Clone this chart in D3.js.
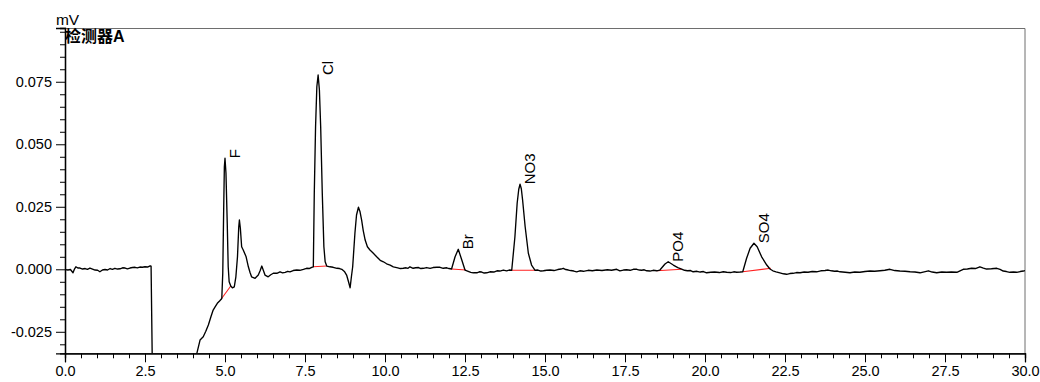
<!DOCTYPE html>
<html>
<head>
<meta charset="utf-8">
<script src="https://cdn.jsdelivr.net/npm/d3@7"></script>
<style>
  body { margin: 0; background: #fff; }
  svg { display: block; }
  text { font-family: "Liberation Sans", Arial, sans-serif; fill: #000; }
</style>
</head>
<body>
<svg id="chart" width="1040" height="382"></svg>
<script>
// Detector A trace: [retention time (min), signal (mV)]
const signal = [
  [0.00, 0.0000], [0.05, -0.0002], [0.09, -0.0003], [0.17, -0.0001], [0.25, -0.0014],
  [0.30, 0.0002], [0.34, 0.0010], [0.40, 0.0005], [0.47, 0.0005], [0.55, 0.0001],
  [0.63, 0.0003], [0.70, 0.0000], [0.78, 0.0005], [0.86, 0.0001], [0.94, -0.0003],
  [1.02, -0.0004], [1.09, -0.0010], [1.17, -0.0003], [1.25, -0.0001], [1.33, -0.0003],
  [1.41, 0.0003], [1.48, 0.0000], [1.56, 0.0004], [1.64, 0.0001], [1.72, 0.0002],
  [1.80, 0.0006], [1.88, 0.0005], [1.95, 0.0002], [2.03, 0.0005], [2.11, 0.0007],
  [2.19, 0.0008], [2.26, 0.0006], [2.34, 0.0009], [2.42, 0.0008], [2.50, 0.0010],
  [2.58, 0.0009], [2.66, 0.0014], [2.69, 0.0013],
  [2.74, -0.0500], [4.08, -0.0500],
  [4.12, -0.0336], [4.22, -0.0283], [4.32, -0.0270], [4.40, -0.0248], [4.48, -0.0223],
  [4.56, -0.0190], [4.63, -0.0163], [4.70, -0.0148], [4.76, -0.0136], [4.83, -0.0127],
  [4.88, -0.0120], [4.90, -0.0116], [4.93, -0.0016], [4.96, 0.0250], [4.98, 0.0410],
  [5.00, 0.0444], [5.03, 0.0385], [5.07, 0.0184], [5.10, 0.0010], [5.13, -0.0050],
  [5.18, -0.0067], [5.23, -0.0074], [5.29, -0.0070], [5.34, -0.0030], [5.39, 0.0050],
  [5.43, 0.0170], [5.45, 0.0197], [5.48, 0.0164], [5.52, 0.0090], [5.57, 0.0077],
  [5.66, 0.0050], [5.73, 0.0010], [5.78, -0.0012], [5.83, -0.0030], [5.94, -0.0036],
  [6.04, -0.0023], [6.10, -0.0005], [6.15, 0.0013], [6.20, -0.0005], [6.25, -0.0023],
  [6.35, -0.0030], [6.43, -0.0022], [6.51, -0.0016], [6.62, -0.0016], [6.72, -0.0010],
  [6.80, -0.0014], [6.88, -0.0012], [6.96, -0.0008], [7.03, -0.0010], [7.13, -0.0005],
  [7.24, -0.0003], [7.34, -0.0004], [7.45, 0.0000], [7.55, 0.0004], [7.63, 0.0003],
  [7.71, 0.0008], [7.76, 0.0010], [7.79, 0.0304], [7.83, 0.0570], [7.87, 0.0730],
  [7.91, 0.0777], [7.95, 0.0717], [7.99, 0.0570], [8.04, 0.0304], [8.09, 0.0090],
  [8.13, 0.0030], [8.18, 0.0013], [8.28, 0.0010], [8.38, 0.0008], [8.50, 0.0004],
  [8.58, 0.0003], [8.65, 0.0000], [8.74, -0.0010], [8.80, -0.0023], [8.86, -0.0050],
  [8.91, -0.0074], [8.95, -0.0030], [8.99, 0.0010], [9.06, 0.0144], [9.11, 0.0217],
  [9.17, 0.0248], [9.22, 0.0230], [9.27, 0.0197], [9.32, 0.0155], [9.38, 0.0117],
  [9.45, 0.0090], [9.53, 0.0077], [9.62, 0.0066], [9.74, 0.0050], [9.85, 0.0036],
  [9.95, 0.0030], [10.05, 0.0022], [10.16, 0.0017], [10.26, 0.0010], [10.33, 0.0008],
  [10.40, 0.0006], [10.48, 0.0003], [10.57, 0.0004], [10.66, 0.0006], [10.72, 0.0004],
  [10.78, 0.0010], [10.88, 0.0004], [10.96, 0.0006], [11.05, 0.0007], [11.12, 0.0003],
  [11.20, 0.0004], [11.30, 0.0007], [11.41, 0.0004], [11.50, 0.0007], [11.62, 0.0008],
  [11.72, 0.0008], [11.82, 0.0004], [11.93, 0.0006], [12.00, 0.0003], [12.08, 0.0001],
  [12.19, 0.0050], [12.29, 0.0080], [12.40, 0.0037], [12.50, -0.0003], [12.60, -0.0008],
  [12.68, -0.0012], [12.76, -0.0014], [12.87, -0.0014], [12.95, -0.0010], [13.02, -0.0011],
  [13.10, -0.0015], [13.18, -0.0014], [13.28, -0.0010], [13.40, -0.0011], [13.50, -0.0006],
  [13.59, -0.0007], [13.70, -0.0003], [13.80, -0.0006], [13.88, -0.0003], [13.96, -0.0004],
  [14.06, 0.0130], [14.13, 0.0264], [14.18, 0.0320], [14.22, 0.0340], [14.26, 0.0322],
  [14.30, 0.0277], [14.38, 0.0170], [14.48, 0.0064], [14.58, 0.0017], [14.69, -0.0004],
  [14.78, -0.0003], [14.87, -0.0007], [14.95, -0.0006], [15.05, -0.0004], [15.16, -0.0003],
  [15.28, -0.0005], [15.40, -0.0001], [15.50, 0.0001], [15.57, 0.0004], [15.65, -0.0001],
  [15.73, -0.0003], [15.80, -0.0005], [15.90, -0.0007], [15.99, -0.0010], [16.09, -0.0006],
  [16.20, -0.0008], [16.35, -0.0004], [16.48, -0.0006], [16.62, -0.0003], [16.78, -0.0005],
  [16.95, -0.0002], [17.08, -0.0004], [17.24, 0.0000], [17.34, -0.0006], [17.45, -0.0003],
  [17.55, -0.0002], [17.66, -0.0004], [17.76, 0.0000], [17.87, 0.0000], [17.95, -0.0003],
  [18.02, -0.0004], [18.10, -0.0002], [18.18, -0.0006], [18.28, -0.0007], [18.38, -0.0004],
  [18.49, -0.0006], [18.59, -0.0003], [18.75, 0.0021], [18.85, 0.0030], [19.01, 0.0017],
  [19.15, 0.0007], [19.27, 0.0001], [19.36, -0.0004], [19.45, -0.0006], [19.55, -0.0005],
  [19.63, -0.0010], [19.75, -0.0008], [19.85, -0.0011], [19.95, -0.0009], [20.05, -0.0014],
  [20.18, -0.0012], [20.30, -0.0011], [20.45, -0.0013], [20.57, -0.0010], [20.68, -0.0012],
  [20.80, -0.0013], [20.90, -0.0010], [20.99, -0.0012], [21.10, -0.0011], [21.18, -0.0010],
  [21.30, 0.0044], [21.41, 0.0084], [21.53, 0.0104], [21.63, 0.0090], [21.77, 0.0050],
  [21.93, 0.0017], [22.03, 0.0001], [22.12, -0.0006], [22.22, -0.0010], [22.34, -0.0014],
  [22.45, -0.0018], [22.55, -0.0020], [22.65, -0.0017], [22.75, -0.0016], [22.86, -0.0013],
  [22.97, -0.0014], [23.10, -0.0011], [23.22, -0.0012], [23.35, -0.0009], [23.49, -0.0010],
  [23.62, -0.0006], [23.75, -0.0005], [23.85, -0.0003], [23.95, -0.0006], [24.05, -0.0008],
  [24.14, -0.0007], [24.22, -0.0010], [24.38, -0.0012], [24.53, -0.0014], [24.68, -0.0011],
  [24.84, -0.0012], [25.00, -0.0009], [25.16, -0.0007], [25.30, -0.0008], [25.47, -0.0006],
  [25.62, -0.0004], [25.78, 0.0000], [25.93, -0.0005], [26.09, -0.0007], [26.25, -0.0008],
  [26.41, -0.0010], [26.56, -0.0011], [26.72, -0.0014], [26.85, -0.0010], [26.98, -0.0006],
  [27.10, -0.0011], [27.24, -0.0014], [27.40, -0.0011], [27.55, -0.0012], [27.70, -0.0011],
  [27.87, -0.0012], [27.97, -0.0006], [28.07, 0.0000], [28.20, 0.0001], [28.33, 0.0004],
  [28.45, 0.0003], [28.59, 0.0010], [28.70, 0.0005], [28.80, 0.0001], [28.95, 0.0002],
  [29.12, 0.0004], [29.22, 0.0000], [29.32, -0.0007], [29.42, -0.0009], [29.53, -0.0012],
  [29.64, -0.0011], [29.74, -0.0012], [29.85, -0.0009], [29.95, -0.0007], [30.00, -0.0005]
];

// Identified peaks: name, apex time, integration baseline start/end [time, mV]
const peakNames = ["F", "Cl", "Br", "NO3", "PO4", "SO4"];
const peakTimes = [5.00, 7.91, 12.29, 14.22, 18.85, 21.53];
const baseStart = [[4.90, -0.0116], [7.76, 0.0010], [12.08, 0.0001], [13.96, -0.0004], [18.49, -0.0006], [21.18, -0.0010]];
const baseEnd   = [[5.18, -0.0067], [8.18, 0.0013], [12.53, -0.0003], [14.69, -0.0004], [19.27, 0.0000], [22.06, 0.0004]];

// Axis ticks
const xTickValues = [0, 2.5, 5, 7.5, 10, 12.5, 15, 17.5, 20, 22.5, 25, 27.5, 30];
const xTickLabels = ["0.0", "2.5", "5.0", "7.5", "10.0", "12.5", "15.0", "17.5", "20.0", "22.5", "25.0", "27.5", "30.0"];
const yTickValues = [-0.025, 0, 0.025, 0.05, 0.075];
const yTickLabels = ["-0.025", "0.000", "0.025", "0.050", "0.075"];

const W = 1040, H = 382;
const margin = { top: 28, right: 15, bottom: 28.7, left: 65 };
const iw = W - margin.left - margin.right;
const ih = H - margin.top - margin.bottom;

const svg = d3.select("#chart");
const g = svg.append("g").attr("transform", `translate(${margin.left},${margin.top})`);

const x = d3.scaleLinear().domain([0, 30]).range([0, iw]);
const y = d3.scaleLinear().domain([-0.0336, 0.0965]).range([ih, 0]);

// frame: top and right edges
g.append("path")
  .attr("d", `M0,0.5H${iw}V${ih}`)
  .attr("fill", "none").attr("stroke", "#6e6e6e").attr("stroke-width", 1);

// minor ticks
const xMinor = d3.range(0, 30.001, 0.5).filter(v => Math.abs(v / 2.5 - Math.round(v / 2.5)) > 1e-6);
const yMinor = d3.range(-0.030, 0.0951, 0.005).filter(v => Math.abs(v / 0.025 - Math.round(v / 0.025)) > 1e-6);

const xAxisMinor = d3.axisBottom(x).tickValues(xMinor).tickSize(5).tickFormat("");
const yAxisMinor = d3.axisLeft(y).tickValues(yMinor).tickSize(5).tickFormat("");
const xAxis = d3.axisBottom(x).tickValues(xTickValues).tickSize(9).tickPadding(3)
  .tickFormat((d, i) => xTickLabels[i]);
const yAxis = d3.axisLeft(y).tickValues(yTickValues).tickSize(9).tickPadding(4)
  .tickFormat((d, i) => yTickLabels[i]);

function styleAxis(sel) {
  sel.selectAll(".domain").attr("stroke", "#000").attr("stroke-width", 1.3);
  sel.selectAll(".tick line").attr("stroke", "#000").attr("stroke-width", 1);
  sel.selectAll("text").attr("font-size", "14.5px").attr("fill", "#000")
    .style("font-family", '"Liberation Sans", Arial, sans-serif');
}

g.append("g").attr("transform", `translate(0,${ih})`).call(xAxisMinor).call(styleAxis);
g.append("g").call(yAxisMinor).call(styleAxis);
g.append("g").attr("transform", `translate(0,${ih})`).call(xAxis).call(styleAxis);
g.append("g").call(yAxis).call(styleAxis);

// clip the trace to the plotting area
svg.append("defs").append("clipPath").attr("id", "plot-clip")
  .append("rect").attr("x", 0).attr("y", 0).attr("width", iw).attr("height", ih);

const plot = g.append("g").attr("clip-path", "url(#plot-clip)");

// integration baselines
plot.selectAll("line.base")
  .data(peakNames.map((n, i) => ({ s: baseStart[i], e: baseEnd[i] })))
  .join("line")
  .attr("class", "base")
  .attr("x1", d => x(d.s[0])).attr("y1", d => y(d.s[1]))
  .attr("x2", d => x(d.e[0])).attr("y2", d => y(d.e[1]))
  .attr("stroke", "#ff2020").attr("stroke-width", 1.1);

// chromatogram
const line = d3.line().x(d => x(d[0])).y(d => y(d[1]));
plot.append("path")
  .datum(signal)
  .attr("d", line)
  .attr("fill", "none")
  .attr("stroke", "#000")
  .attr("stroke-width", 1.35)
  .attr("stroke-linejoin", "round");

// peak names, written upward from each apex
const apexes = peakTimes.map(t => signal.reduce((a, b) => Math.abs(b[0] - t) < Math.abs(a[0] - t) ? b : a));
g.selectAll("text.peak")
  .data(peakNames)
  .join("text")
  .attr("class", "peak")
  .attr("transform", (d, i) => `translate(${x(apexes[i][0]) + 15},${y(apexes[i][1])}) rotate(-90)`)
  .attr("font-size", "15px")
  .text(d => d);

// unit and detector name
svg.append("text").attr("x", 67.5).attr("y", 25).attr("text-anchor", "middle")
  .attr("font-size", "15.5px").text("mV");
svg.append("text").attr("x", 65).attr("y", 41.5)
  .attr("font-size", "16px").attr("font-weight", "bold")
  .style("font-family", '"Liberation Sans", "Noto Sans CJK SC", sans-serif')
  .text("检测器A");
</script>
</body>
</html>
